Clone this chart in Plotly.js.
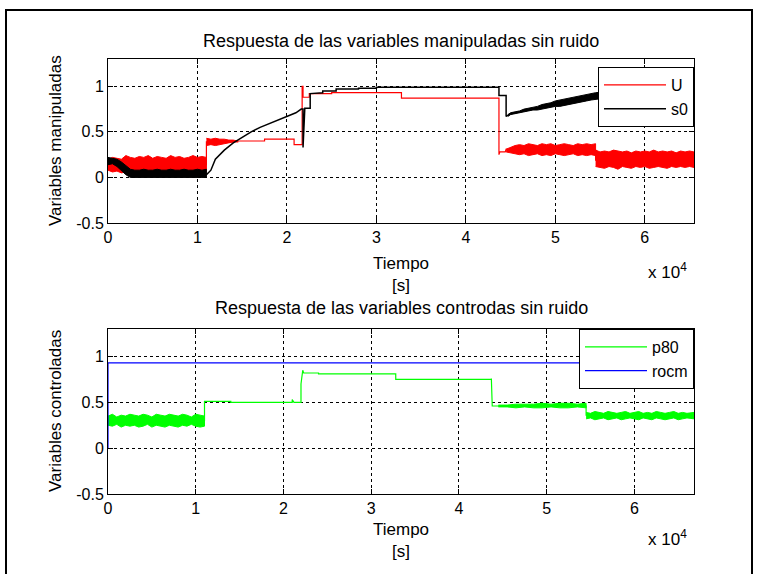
<!DOCTYPE html>
<html>
<head>
<meta charset="utf-8">
<script src="https://cdn.plot.ly/plotly-3.0.1.min.js"></script>
<style>html,body{margin:0;padding:0;background:#fff;}#chart{width:758px;height:574px;}</style>
</head>
<body>
<div id="chart"></div>
<script>
// ---------- DATA (time in seconds) ----------
// Top subplot: manipulated variables
const uT   = [0, 11000, 11000, 14500, 14500, 17500, 17500, 20800, 20800, 21700, 21700, 21800, 21800, 22500, 22500, 25000, 25000, 32800, 32800, 43700, 43700, 43800, 44400, 44500, 45000, 54500, 54500, 65500];
const uVal = [0.14, 0.14, 0.39, 0.39, 0.40, 0.40, 0.42, 0.42, 0.36, 0.36, 1.00, 1.00, 0.88, 0.88, 0.92, 0.92, 0.93, 0.93, 0.87, 0.87, 0.25, 0.28, 0.28, 0.31, 0.30, 0.30, 0.19, 0.19];

const uBand1T  = [0,500,1000,1500,2000,2500,3000,3500,4000,4500,5000,5500,6000,6500,7000,7500,8000,8500,9000,9500,10000,10500,11000];
const uBand1Hi = [0.20,0.22,0.21,0.20,0.24,0.22,0.21,0.23,0.22,0.24,0.21,0.23,0.22,0.21,0.24,0.22,0.23,0.21,0.22,0.24,0.22,0.23,0.22];
const uBand1Lo = [0.08,0.06,0.07,0.05,0.06,0.05,0.06,0.05,0.06,0.05,0.05,0.06,0.05,0.06,0.05,0.05,0.06,0.05,0.06,0.05,0.06,0.05,0.06];
const uBand2T  = [11000,11500,12000,12500,13000,13500,14000,14500];
const uBand2Hi = [0.43,0.42,0.43,0.42,0.42,0.41,0.41,0.40];
const uBand2Lo = [0.35,0.36,0.35,0.36,0.37,0.38,0.39,0.40];
const uBand3T  = [44500,45000,45500,46000,46500,47000,47500,48000,48500,49000,49500,50000,50500,51000,51500,52000,52500,53000,53500,54000,54500];
const uBand3Hi = [0.31,0.33,0.35,0.36,0.35,0.37,0.36,0.35,0.37,0.36,0.37,0.35,0.36,0.37,0.36,0.35,0.37,0.36,0.37,0.36,0.37];
const uBand3Lo = [0.28,0.27,0.26,0.25,0.26,0.24,0.25,0.26,0.24,0.25,0.24,0.26,0.25,0.24,0.25,0.26,0.24,0.25,0.24,0.25,0.24];
const uBand4T  = [54500,55000,55500,56000,56500,57000,57500,58000,58500,59000,59500,60000,60500,61000,61500,62000,62500,63000,63500,64000,64500,65000,65500];
const uBand4Hi = [0.30,0.28,0.29,0.28,0.30,0.29,0.28,0.29,0.27,0.29,0.28,0.29,0.28,0.30,0.28,0.29,0.28,0.29,0.27,0.29,0.28,0.29,0.28];
const uBand4Lo = [0.12,0.11,0.10,0.12,0.11,0.09,0.12,0.11,0.10,0.12,0.11,0.12,0.10,0.11,0.12,0.11,0.10,0.12,0.11,0.12,0.11,0.12,0.11];

const sT   = [0, 1000, 1500, 2000, 2700, 11000, 11500, 12000, 13000, 14000, 15000, 16000, 17000, 18000, 19000, 20000, 21000, 21600, 21800, 21800, 21900, 22000, 22600, 22600, 24000, 24000, 25500, 25500, 28000, 28000, 30000, 30000, 43700, 43700, 44500, 44500, 45000, 46000, 48000, 50000, 52000, 54500, 57000, 60000, 65500];
const sVal = [0.18, 0.16, 0.13, 0.08, 0.03, 0.03, 0.08, 0.20, 0.30, 0.38, 0.44, 0.50, 0.55, 0.59, 0.63, 0.67, 0.71, 0.75, 0.75, 0.33, 0.62, 0.76, 0.76, 0.92, 0.93, 0.95, 0.95, 0.97, 0.97, 0.98, 0.98, 0.99, 0.99, 0.90, 0.90, 0.67, 0.70, 0.72, 0.76, 0.81, 0.85, 0.89, 0.91, 0.93, 0.95];

const sBand1T  = [0,500,1000,1500,2000,2500,3000,3500,4000,4500,5000,5500,6000,6500,7000,7500,8000,8500,9000,9500,10000,10500,11000];
const sBand1Hi = [0.22,0.21,0.20,0.17,0.13,0.09,0.08,0.08,0.09,0.08,0.08,0.09,0.08,0.08,0.09,0.08,0.08,0.09,0.08,0.08,0.09,0.08,0.09];
const sBand1Lo = [0.14,0.15,0.12,0.08,0.03,0.00,0.00,0.00,0.00,0.00,0.00,0.00,0.00,0.00,0.00,0.00,0.00,0.00,0.00,0.00,0.00,0.00,0.00];
const sBand2T  = [44700,45000,45500,46000,46500,47000,47500,48000,48500,49000,49500,50000,50500,51000,51500,52000,52500,53000,53500,54000,54500,55500,57000,59000,61000,63000,65500];
const sBand2Hi = [0.69,0.71,0.72,0.73,0.75,0.76,0.77,0.78,0.80,0.81,0.82,0.84,0.85,0.86,0.87,0.88,0.89,0.90,0.91,0.92,0.93,0.94,0.95,0.96,0.97,0.98,0.99];
const sBand2Lo = [0.67,0.69,0.70,0.71,0.72,0.73,0.74,0.74,0.75,0.76,0.77,0.78,0.78,0.79,0.80,0.81,0.82,0.83,0.84,0.85,0.86,0.87,0.88,0.89,0.90,0.91,0.92];

// Bottom subplot: controlled variables
const pT   = [0, 11000, 11000, 14000, 14000, 21000, 21000, 21200, 22000, 22000, 22200, 22300, 24000, 24000, 32800, 32800, 43700, 43700, 43800, 54500, 54500, 66800];
const pVal = [0.30, 0.30, 0.51, 0.51, 0.50, 0.50, 0.53, 0.50, 0.50, 0.70, 0.85, 0.82, 0.82, 0.81, 0.81, 0.75, 0.75, 0.76, 0.46, 0.46, 0.36, 0.36];

const pBand1T  = [0,500,1000,1500,2000,2500,3000,3500,4000,4500,5000,5500,6000,6500,7000,7500,8000,8500,9000,9500,10000,10500,11000];
const pBand1Hi = [0.35,0.37,0.34,0.36,0.35,0.37,0.36,0.35,0.37,0.36,0.34,0.37,0.36,0.35,0.37,0.36,0.35,0.37,0.36,0.34,0.37,0.36,0.35];
const pBand1Lo = [0.25,0.24,0.26,0.23,0.25,0.24,0.25,0.23,0.24,0.26,0.23,0.25,0.24,0.23,0.25,0.24,0.23,0.25,0.24,0.26,0.24,0.23,0.24];
const pBand2T  = [44500,45500,46500,47500,48500,49500,50500,51500,52500,53500,54500];
const pBand2Hi = [0.47,0.47,0.48,0.48,0.48,0.49,0.48,0.49,0.49,0.48,0.49];
const pBand2Lo = [0.45,0.45,0.44,0.45,0.44,0.44,0.45,0.44,0.44,0.45,0.44];
const pBand3T  = [54500,55000,55500,56000,56500,57000,57500,58000,58500,59000,59500,60000,60500,61000,61500,62000,62500,63000,63500,64000,64500,65000,65500,66000,66800];
const pBand3Hi = [0.39,0.38,0.40,0.39,0.38,0.40,0.39,0.38,0.39,0.40,0.38,0.39,0.40,0.38,0.39,0.38,0.40,0.39,0.38,0.39,0.40,0.38,0.39,0.38,0.39];
const pBand3Lo = [0.32,0.33,0.31,0.32,0.33,0.31,0.32,0.33,0.31,0.32,0.33,0.32,0.31,0.33,0.32,0.31,0.33,0.32,0.31,0.32,0.33,0.31,0.32,0.33,0.32];

const rT   = [0, 0, 66800];
const rVal = [0, 0.93, 0.93];

const xTickVals  = [0, 10000, 20000, 30000, 40000, 50000, 60000];
const xTickText  = ['0', '1', '2', '3', '4', '5', '6'];
const yTickVals  = [-0.5, 0, 0.5, 1];
const yTickText  = ['-0.5', '0', '0.5', '1'];

// ---------- BUILD ----------
const FONT = 'Liberation Sans, Arial, sans-serif';
const RED = '#ff0000', BLACK = '#000000', GREEN = '#00ff00', BLUE = '#0000ff';

function band(t, hi, lo, color, xa, ya) {
  return {
    x: t.concat(t.slice().reverse()),
    y: hi.concat(lo.slice().reverse()),
    type: 'scatter', mode: 'lines', fill: 'toself',
    fillcolor: color, line: {color: color, width: 1},
    xaxis: xa, yaxis: ya, showlegend: false, hoverinfo: 'skip'
  };
}

const traces = [
  {x: uT, y: uVal, type: 'scatter', mode: 'lines', name: 'U', line: {color: RED, width: 1.2}, xaxis: 'x', yaxis: 'y', legend: 'legend'},
  band(uBand1T, uBand1Hi, uBand1Lo, RED, 'x', 'y'),
  band(uBand2T, uBand2Hi, uBand2Lo, RED, 'x', 'y'),
  band(uBand3T, uBand3Hi, uBand3Lo, RED, 'x', 'y'),
  band(uBand4T, uBand4Hi, uBand4Lo, RED, 'x', 'y'),
  {x: sT, y: sVal, type: 'scatter', mode: 'lines', name: 's0', line: {color: BLACK, width: 1.5}, xaxis: 'x', yaxis: 'y', legend: 'legend'},
  band(sBand1T, sBand1Hi, sBand1Lo, BLACK, 'x', 'y'),
  band(sBand2T, sBand2Hi, sBand2Lo, BLACK, 'x', 'y'),

  {x: pT, y: pVal, type: 'scatter', mode: 'lines', name: 'p80', line: {color: GREEN, width: 1.2}, xaxis: 'x2', yaxis: 'y2', legend: 'legend2'},
  band(pBand1T, pBand1Hi, pBand1Lo, GREEN, 'x2', 'y2'),
  band(pBand2T, pBand2Hi, pBand2Lo, GREEN, 'x2', 'y2'),
  band(pBand3T, pBand3Hi, pBand3Lo, GREEN, 'x2', 'y2'),
  {x: rT, y: rVal, type: 'scatter', mode: 'lines', name: 'rocm', line: {color: BLUE, width: 1.2}, xaxis: 'x2', yaxis: 'y2', legend: 'legend2'}
];

const TICKFONT = {family: FONT, size: 16, color: '#000'};

function xAxis(range, anchor) {
  return {
    range: range, anchor: anchor, tickvals: xTickVals, ticktext: xTickText,
    ticks: 'inside', ticklen: 5, tickcolor: '#000', showline: true, linecolor: '#000', linewidth: 1,
    mirror: 'ticks', showgrid: true, gridcolor: '#000', griddash: '3px,3px', gridwidth: 1,
    zeroline: false, tickfont: TICKFONT, fixedrange: true
  };
}
function yAxis(domain, anchor) {
  return {
    range: [-0.5, 1.3], domain: domain, anchor: anchor, tickvals: yTickVals, ticktext: yTickText,
    ticks: 'inside', ticklen: 5, tickcolor: '#000', showline: true, linecolor: '#000', linewidth: 1,
    mirror: 'ticks', showgrid: true, gridcolor: '#000', griddash: '3px,3px', gridwidth: 1,
    zeroline: false, tickfont: TICKFONT, fixedrange: true
  };
}

const L = 108, R = 694, T = 59, B = 494, W = 758, H = 574;
const px = v => (v - L) / (R - L);
const py = v => (B - v) / (B - T);

function legendCfg(y1) {
  return {
    x: 1, xanchor: 'right', y: py(y1), yanchor: 'top',
    bgcolor: '#fff', bordercolor: '#000', borderwidth: 1,
    font: {family: FONT, size: 16, color: '#000'}, itemwidth: 62
  };
}

const ann = (text, x, y, size, extra) => Object.assign({
  text: text, xref: 'paper', yref: 'paper', x: px(x), y: py(y),
  xanchor: 'center', yanchor: 'middle', showarrow: false,
  font: {family: FONT, size: size, color: '#000'}
}, extra || {});

const layout = {
  width: W, height: H,
  margin: {l: L, r: W - R, t: T, b: H - B, pad: 0},
  paper_bgcolor: '#fff', plot_bgcolor: '#fff',
  xaxis: xAxis([0, 65500], 'y'),
  yaxis: yAxis([py(223), 1], 'x'),
  xaxis2: xAxis([0, 66800], 'y2'),
  yaxis2: yAxis([0, py(329)], 'x2'),
  legend: legendCfg(67),
  legend2: legendCfg(329),
  showlegend: true,
  annotations: [
    ann('Respuesta de las variables manipuladas sin ruido', 401, 41, 18),
    ann('Tiempo<br>[s]', 401, 274, 17),
    ann('x 10<sup>4</sup>', 667, 271, 17),
    ann('Variables manipuladas', 55, 141, 17, {textangle: -90}),
    ann('Respuesta de las variables controdas sin ruido', 401, 308, 18),
    ann('Tiempo<br>[s]', 401, 540, 17),
    ann('x 10<sup>4</sup>', 667, 538, 17),
    ann('Variables controladas', 55, 411, 17, {textangle: -90})
  ],
  shapes: [
    {type: 'rect', xref: 'paper', yref: 'paper', x0: px(6), x1: px(752), y0: py(580), y1: py(10),
     line: {color: '#000', width: 2}, fillcolor: 'rgba(0,0,0,0)', layer: 'below'}
  ]
};

Plotly.newPlot('chart', traces, layout, {displayModeBar: false, staticPlot: true});
</script>
</body>
</html>
